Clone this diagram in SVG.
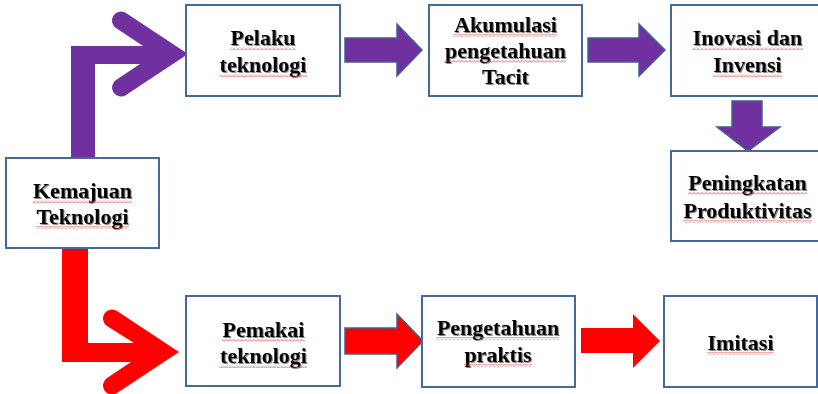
<svg xmlns="http://www.w3.org/2000/svg" width="818" height="394" viewBox="0 0 818 394">
<style>
.box{fill:#ffffff;stroke:#45699a;stroke-width:2}
.t{font-family:"Liberation Serif","Times New Roman",serif;font-weight:bold;font-size:22px;fill:#000;text-anchor:middle;filter:url(#sh)}
.pur{fill:#7030a0}
.red{fill:#ff0000}
.ol{stroke:#3f6190;stroke-width:1.5;stroke-linejoin:miter}
.wv{fill:url(#wave)}
</style>
<defs>
<filter id="sh" x="-10%" y="-20%" width="130%" height="150%">
<feDropShadow dx="1" dy="1" stdDeviation="0.7" flood-color="#555" flood-opacity="0.7"/>
</filter>
<pattern id="wave" width="4" height="3" patternUnits="userSpaceOnUse">
<path d="M0,2.5 L2,0.5 L4,2.5" fill="none" stroke="#e03030" stroke-width="0.8"/>
</pattern>
</defs>
<g id="connectors">
<path class="pur" d="M71,158 L71,46 L143,46 L116,28 A9 9 0 0 1 126,13 L188,54 L126,95 A9 9 0 0 1 116,80 L140,64 L95,64 L95,158 Z"/>
<path class="red" d="M62,248 L88,248 L88,343 L134,343 L107,326 A9 9 0 0 1 117,311 L179,352 L117,393 A9 9 0 0 1 107,378 L131,362 L62,362 Z"/>
<path class="pur ol" d="M345,38 L397,38 L397,24 L422,50 L397,76 L397,62 L345,62 Z"/>
<path class="pur ol" d="M588,38 L639,38 L639,24 L665,50 L639,76 L639,62 L588,62 Z"/>
<path class="pur ol" d="M732,101 L762,101 L762,127 L780,127 L748,151 L717,127 L732,127 Z"/>
<path class="red ol" d="M345,328 L397,328 L397,314 L423,341 L397,368 L397,354 L345,354 Z"/>
<path class="red" d="M581,328 L633,328 L633,314 L660,341 L633,368 L633,353 L581,353 Z"/>
</g>
<g id="n-kemajuan">
<rect class="box" x="6" y="158" width="153" height="90"/>
<text class="t" x="82.5" y="198">Kemajuan</text>
<text class="t" x="82.5" y="224">Teknologi</text>
<rect class="wv" x="33" y="200" width="99" height="3"/>
<rect class="wv" x="35.5" y="226" width="94" height="3"/>
</g>
<g id="n-pelaku">
<rect class="box" x="186" y="5" width="154" height="91"/>
<text class="t" x="263" y="45">Pelaku</text>
<text class="t" x="263" y="72">teknologi</text>
<rect class="wv" x="230" y="47" width="66" height="3"/>
<rect class="wv" x="219" y="74" width="88" height="3"/>
</g>
<g id="n-akumulasi">
<rect class="box" x="429" y="5" width="153" height="91"/>
<text class="t" x="505.5" y="32">Akumulasi</text>
<text class="t" x="505.5" y="58">pengetahuan</text>
<text class="t" x="505.5" y="84">Tacit</text>
<rect class="wv" x="453" y="34" width="104" height="3"/>
<rect class="wv" x="444" y="60" width="122" height="3"/>
</g>
<g id="n-inovasi">
<rect class="box" x="671" y="5" width="154" height="91"/>
<text class="t" x="747.5" y="45">Inovasi dan</text>
<text class="t" x="747.5" y="72">Invensi</text>
<rect class="wv" x="692" y="47" width="111" height="3"/>
<rect class="wv" x="713" y="74" width="69" height="3"/>
</g>
<g id="n-peningkatan">
<rect class="box" x="671" y="151" width="154" height="90"/>
<text class="t" x="747.5" y="190">Peningkatan</text>
<text class="t" x="747.5" y="218">Produktivitas</text>
<rect class="wv" x="688" y="192" width="119" height="3"/>
<rect class="wv" x="683" y="220" width="129" height="3"/>
</g>
<g id="n-pemakai">
<rect class="box" x="186" y="296" width="154" height="90"/>
<text class="t" x="263.5" y="337">Pemakai</text>
<text class="t" x="263.5" y="363">teknologi</text>
<rect class="wv" x="222" y="339" width="83" height="3"/>
<rect class="wv" x="219" y="365" width="88" height="3"/>
</g>
<g id="n-pengetahuan">
<rect class="box" x="422" y="296" width="153" height="91"/>
<text class="t" x="498" y="335">Pengetahuan</text>
<text class="t" x="498" y="362">praktis</text>
<rect class="wv" x="436" y="337" width="123" height="3"/>
<rect class="wv" x="464" y="364" width="68" height="3"/>
</g>
<g id="n-imitasi">
<rect class="box" x="664" y="296" width="153" height="91"/>
<text class="t" x="740.5" y="350">Imitasi</text>
<rect class="wv" x="707" y="352" width="67" height="3"/>
</g>
</svg>
